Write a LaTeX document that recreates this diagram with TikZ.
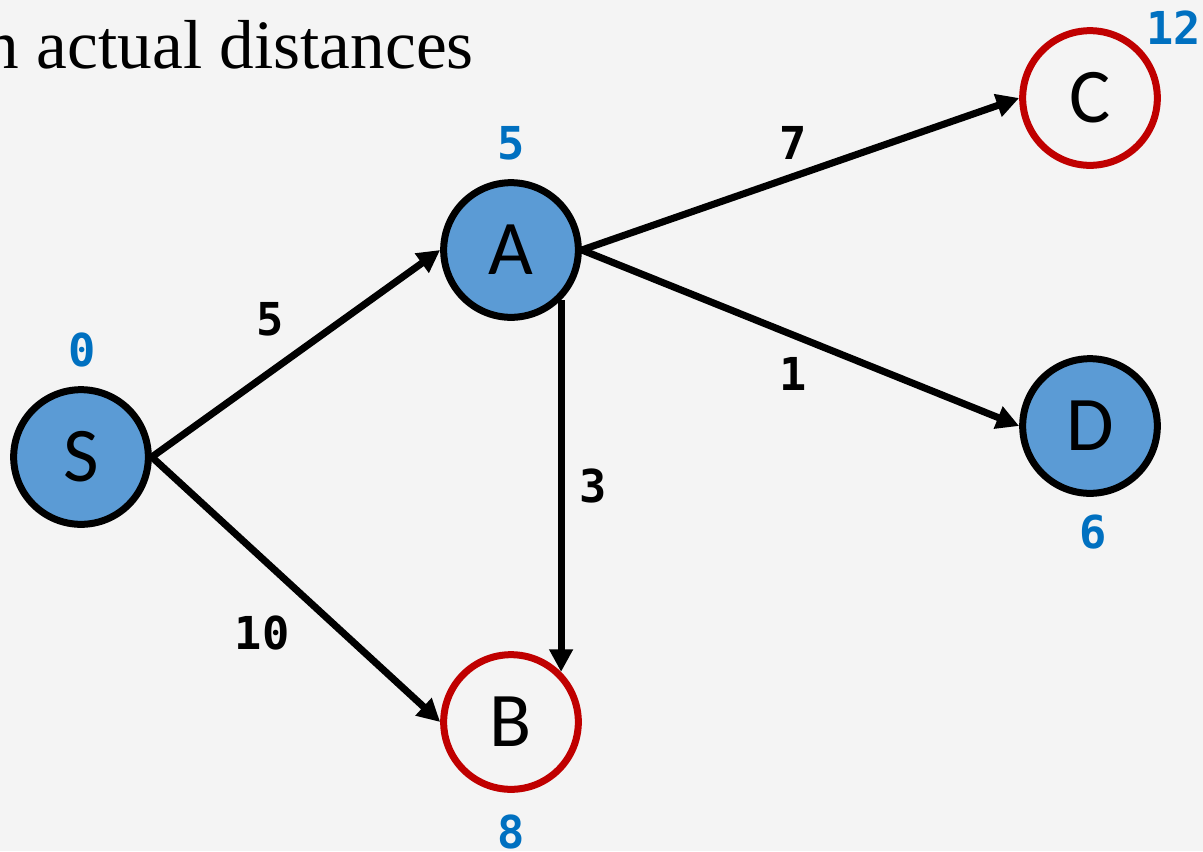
\documentclass[tikz,border=0pt]{standalone}
\usepackage{fontspec}
\setmainfont{Liberation Serif}
\newfontfamily\nodefont{Carlito}
\newfontfamily\numfont{DejaVu Sans Mono}
\usetikzlibrary{arrows.meta}
\definecolor{bg}{HTML}{F4F4F4}
\definecolor{nodeblue}{HTML}{5B9BD5}
\definecolor{textblue}{HTML}{0070C0}
\definecolor{nodered}{HTML}{C00000}
\tikzset{
  vtx/.style={circle, draw=black, line width=5.25pt, minimum size=101pt, inner sep=0pt, font=\nodefont\fontsize{58}{60}\selectfont},
  done/.style={vtx, fill=nodeblue},
  open/.style={vtx, draw=nodered, fill=none},
  dist/.style={text=textblue, font=\numfont\bfseries\fontsize{34}{36}\selectfont, inner sep=0pt},
  wt/.style={text=black, font=\numfont\bfseries\fontsize{34}{36}\selectfont, inner sep=0pt},
  edge/.style={line width=5.3pt, -{Triangle[length=17pt,width=17pt]}},
}
\begin{document}
\begin{tikzpicture}[x=0.75pt,y=-0.75pt]
\path[use as bounding box, fill=bg] (0,0) rectangle (1203,851);
\clip (0,0) rectangle (1203,851);
\node[anchor=base east, inner sep=0pt, font=\fontsize{52}{55}\selectfont] (title) at (474,68) {n actual distances};
\node[done] (S) at (81,457) {S};
\node[done] (A) at (511,250) {A};
\node[open] (B) at (511,722) {B};
\node[open] (C) at (1090,98) {C};
\node[done] (D) at (1090,426) {D};
\node[dist] (dS) at (82,350) {0};
\node[dist] (dA) at (511,143) {5};
\node[dist, anchor=west] (dC) at (1146,28) {12};
\node[dist] (dD) at (1093,532) {6};
\node[dist] (dB) at (511,832) {8};
\draw[edge] (S.east) -- (A.west);
\draw[edge] (S.east) -- (B.west);
\draw[edge] (A.east) -- (C.west);
\draw[edge] (A.east) -- (D.west);
\draw[edge] (A.south east) -- (B.north east);
\node[wt] (wSA) at (270,319) {5};
\node[wt] (wSB) at (262,633) {10};
\node[wt] (wAC) at (793,143) {7};
\node[wt] (wAD) at (793,374) {1};
\node[wt] (wAB) at (593,486) {3};
\end{tikzpicture}
\end{document}
